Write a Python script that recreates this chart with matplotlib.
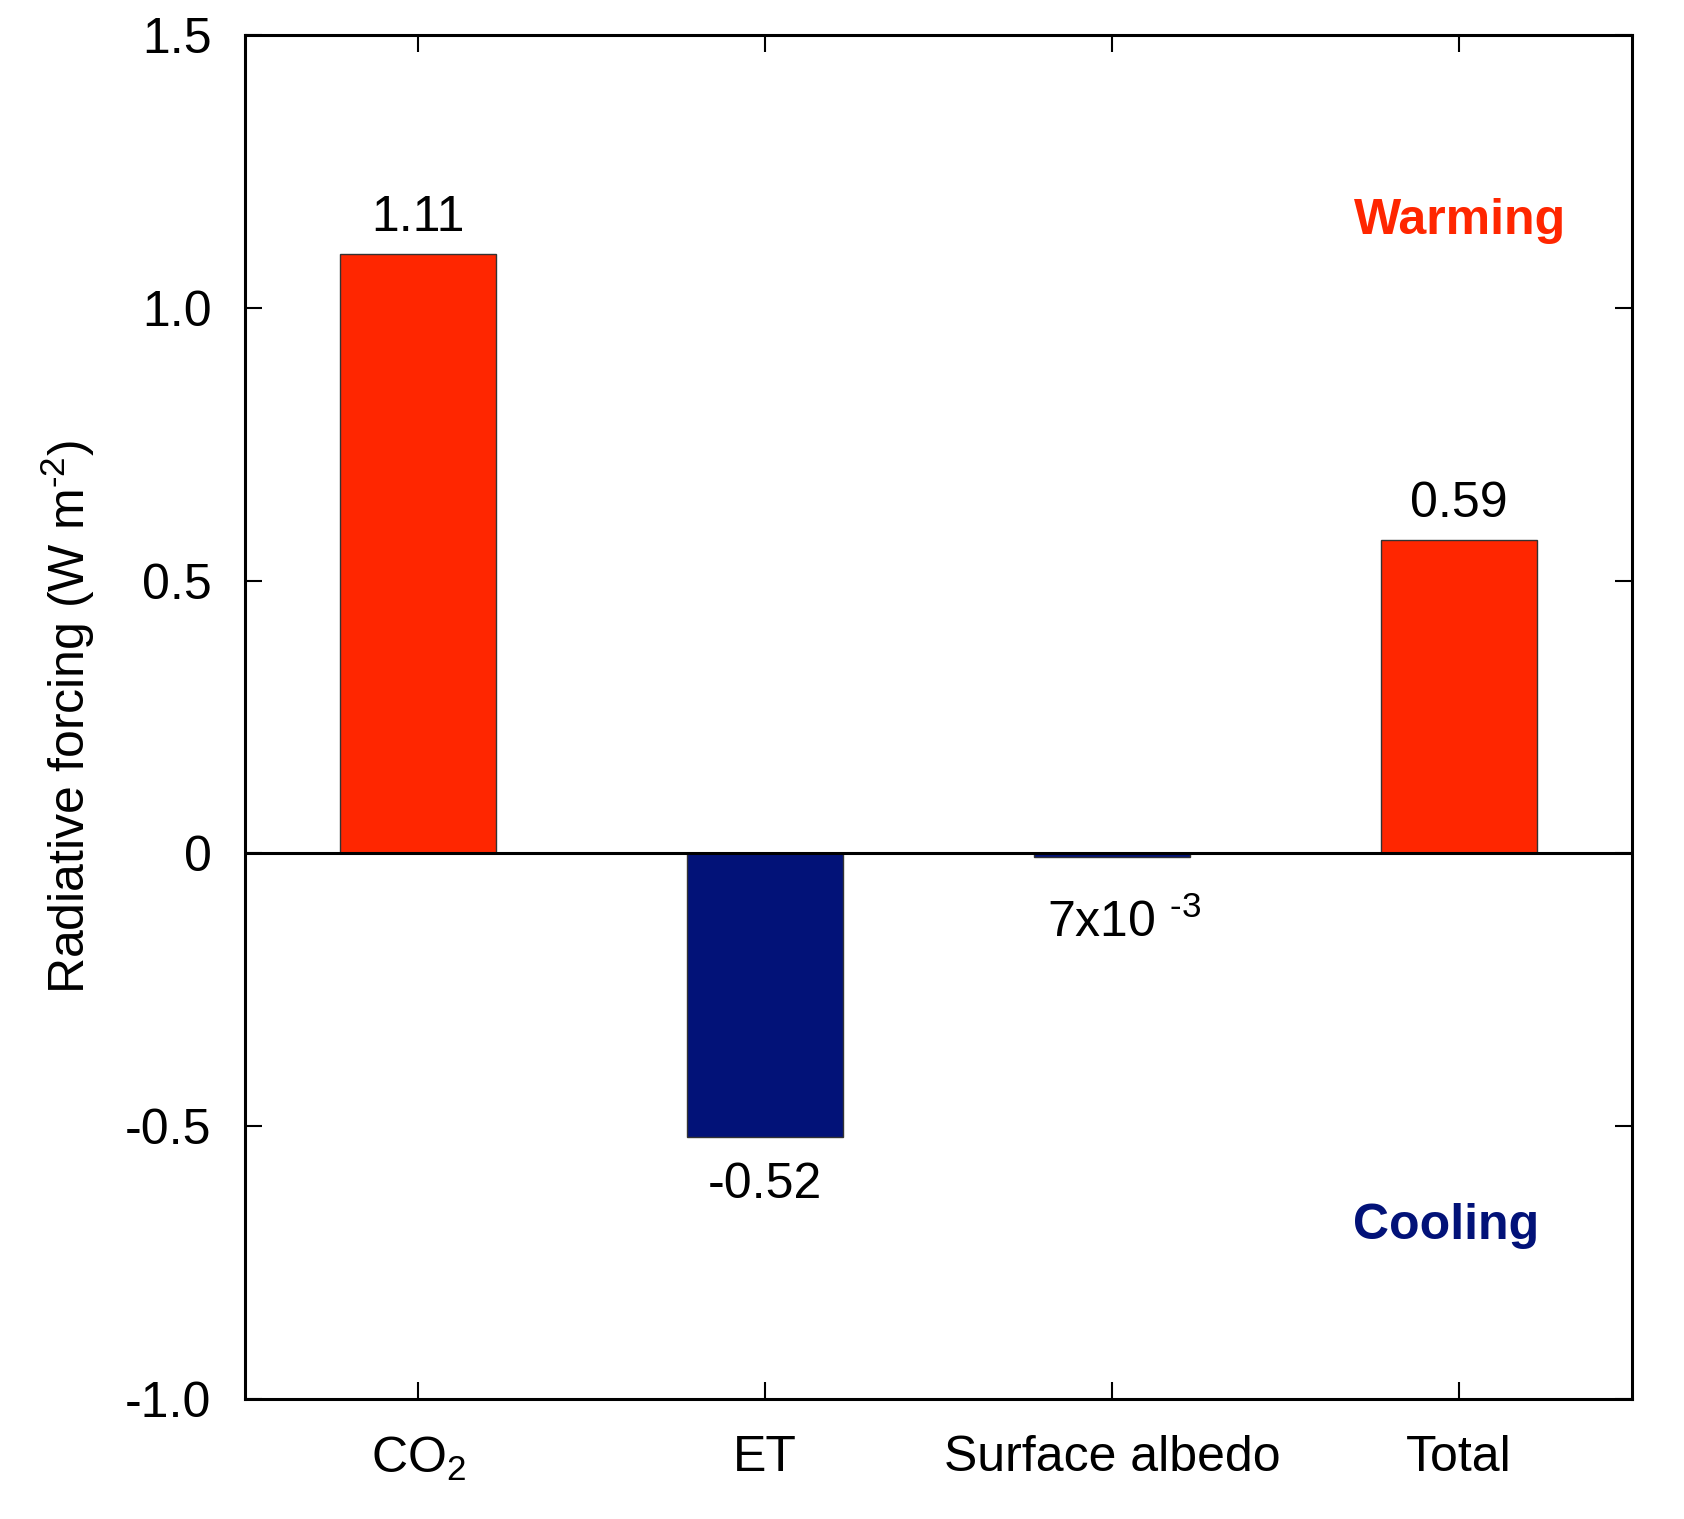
import matplotlib.pyplot as plt

# data
categories = ['CO$\\mathregular{_2}$', 'ET', 'Surface albedo', 'Total']
forcing = [1.10, -0.52, -0.007, 0.575]
value_labels = ['1.11', '-0.52', '7x10 $\\mathregular{^{\u2010 3}}$', '0.59']
y_ticks = [-1.0, -0.5, 0, 0.5, 1.0, 1.5]
y_tick_labels = ['-1.0', '-0.5', '0', '0.5', '1.0', '1.5']

RED = '#ff2600'
BLUE = '#021278'
FONT_SIZE = 36

plt.rcParams['font.family'] = ['Liberation Sans', 'DejaVu Sans']

fig = plt.figure(figsize=(16.84, 15.19), dpi=100)
ax = fig.add_axes([0.1454, 0.0792, 0.824, 0.8975])

x = list(range(1, len(categories) + 1))
colors = [RED if v > 0 else BLUE for v in forcing]
ax.bar(x, forcing, width=0.45, color=colors, edgecolor='#333333', linewidth=1.0, zorder=2)

# zero line
ax.axhline(0, color='black', linewidth=2.2, zorder=3)

# value labels above / below the bars
offsets = [9, 18, 30, 9]
for xi, v, lab, off in zip(x, forcing, value_labels, offsets):
    if v > 0:
        ax.annotate(lab, (xi, v), xytext=(0, off), textcoords='offset points',
                    ha='center', va='bottom', fontsize=FONT_SIZE)
    else:
        ax.annotate(lab, (xi, v), xytext=(9 if xi == 3 else 0, -off), textcoords='offset points',
                    ha='center', va='top', fontsize=FONT_SIZE)

ax.text(0.876, 0.864, 'Warming', transform=ax.transAxes, color=RED,
        fontsize=FONT_SIZE, fontweight='bold', ha='center', va='center')
ax.text(0.866, 0.127, 'Cooling', transform=ax.transAxes, color=BLUE,
        fontsize=FONT_SIZE, fontweight='bold', ha='center', va='center')

ax.set_xlim(0.5, 4.5)
ax.set_ylim(-1.0, 1.5)
ax.set_xticks(x)
ax.set_xticklabels(categories, fontsize=FONT_SIZE)
ax.set_yticks(y_ticks)
ax.set_yticklabels(y_tick_labels, fontsize=FONT_SIZE)
ax.set_ylabel('Radiative forcing (W m$\\mathregular{^{\u2010 2}}$)', fontsize=FONT_SIZE, labelpad=20)

ax.tick_params(direction='in', length=12, width=1.5, top=True, right=True)
ax.tick_params(axis='x', pad=26)
ax.tick_params(axis='y', pad=24)
for s in ax.spines.values():
    s.set_linewidth(2.2)

plt.savefig('out.png', dpi=100)
